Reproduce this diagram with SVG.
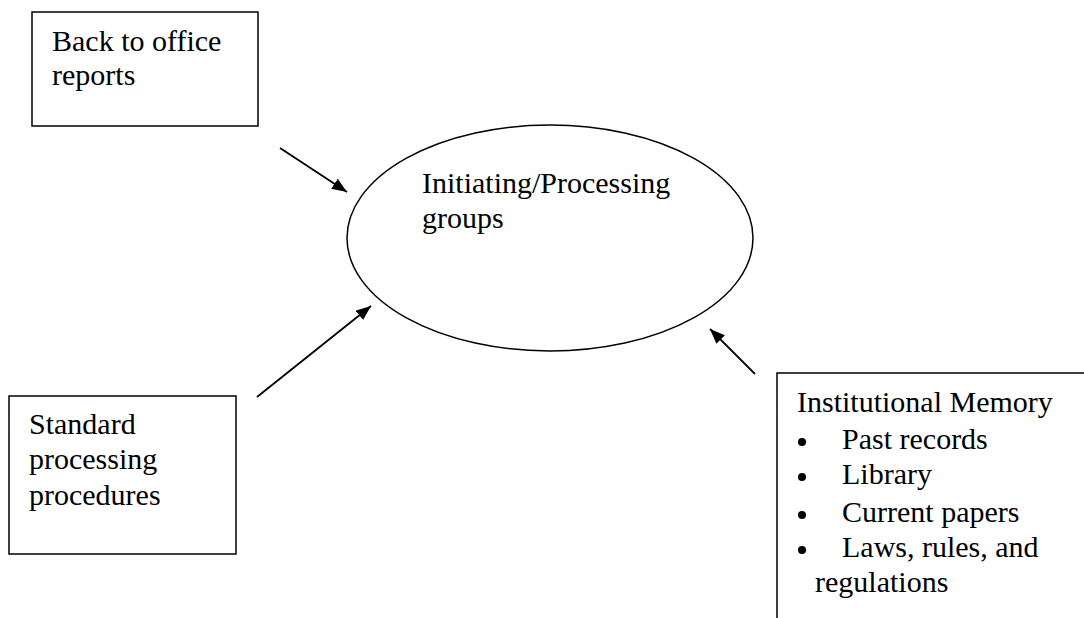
<svg xmlns="http://www.w3.org/2000/svg" width="1084" height="618" viewBox="0 0 1084 618">
  <style>
    .box { fill: #ffffff; stroke: #000000; stroke-width: 1.5; }
    .label { font-family: "Liberation Serif", "Times New Roman", serif; font-size: 30px; fill: #000000; }
    .edge { stroke: #000000; stroke-width: 1.8; fill: none; marker-end: url(#arrow); }
    .dot { fill: #000000; }
  </style>
  <defs>
    <marker id="arrow" viewBox="0 0 15 12" refX="15" refY="6" markerWidth="15" markerHeight="12" markerUnits="userSpaceOnUse" orient="auto">
      <path d="M0,0 L15,6 L0,12 z" fill="#000000"/>
    </marker>
  </defs>

  <rect width="1084" height="618" fill="#ffffff"/>

  <g id="back-to-office">
    <rect class="box" x="32" y="12" width="226" height="114"/>
    <text class="label" x="52" y="51">Back to office</text>
    <text class="label" x="52" y="85">reports</text>
  </g>

  <g id="initiating-processing">
    <ellipse class="box" cx="550" cy="238" rx="203" ry="113"/>
    <text class="label" x="422" y="193">Initiating/Processing</text>
    <text class="label" x="422" y="228">groups</text>
  </g>

  <g id="standard-procedures">
    <rect class="box" x="9" y="396" width="227" height="158"/>
    <text class="label" x="29" y="434">Standard</text>
    <text class="label" x="29" y="469">processing</text>
    <text class="label" x="29" y="505">procedures</text>
  </g>

  <g id="institutional-memory">
    <path class="box" d="M1084,373 H777 V618"/>
    <text class="label" x="797" y="412">Institutional Memory</text>
    <circle class="dot" cx="802" cy="442" r="4"/>
    <text class="label" x="842" y="449">Past records</text>
    <circle class="dot" cx="802" cy="477" r="4"/>
    <text class="label" x="842" y="484">Library</text>
    <circle class="dot" cx="802" cy="515" r="4"/>
    <text class="label" x="842" y="522">Current papers</text>
    <circle class="dot" cx="802" cy="550" r="4"/>
    <text class="label" x="842" y="557">Laws, rules, and</text>
    <text class="label" x="815" y="592">regulations</text>
  </g>

  <g id="connectors">
    <line class="edge" x1="280" y1="148" x2="347" y2="192"/>
    <line class="edge" x1="257" y1="397" x2="371" y2="306"/>
    <line class="edge" x1="755" y1="374" x2="710" y2="329"/>
  </g>
</svg>
